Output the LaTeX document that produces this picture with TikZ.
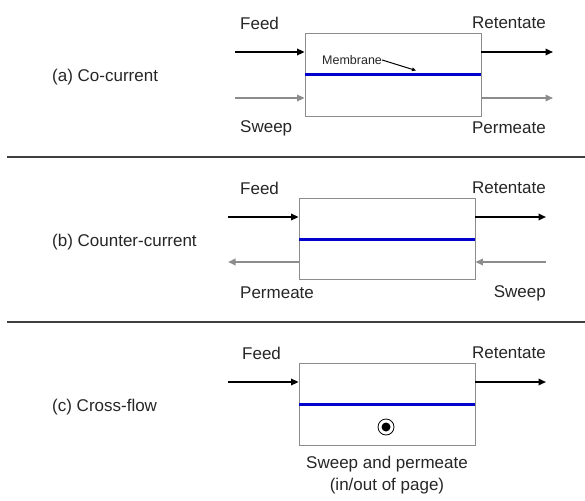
\documentclass[tikz,border=0pt]{standalone}
\usepackage{fontspec}
\setmainfont{Liberation Sans}
\usetikzlibrary{arrows.meta}
\begin{document}
\begin{tikzpicture}[x=1pt,y=-1pt,
  lbl/.style={font=\fontsize{17}{20}\selectfont, inner sep=0pt, text=black!85},
  modbox/.style={draw=black!45, line width=0.9pt, fill=white, inner sep=0pt},
  blk/.style={draw=black, line width=2.2pt, -{Triangle[length=7.5pt,width=6.5pt]}},
  gry/.style={draw=black!45, line width=2.2pt, -{Triangle[length=7.5pt,width=6.5pt]}},
  memb/.style={draw=blue!80!black, line width=3pt},
  sep/.style={draw=black!75, line width=1.5pt}]
\useasboundingbox (0,0) rectangle (585,500);
% separators
\coordinate (s1l) at (7,157); \coordinate (s1r) at (585,157);
\coordinate (s2l) at (7,322); \coordinate (s2r) at (585,322);
\draw[sep] (s1l) -- (s1r);
\draw[sep] (s2l) -- (s2r);
% ---------- (a)
\node[lbl, anchor=west] (atitle) at (52,77) {(a) Co-current};
\node[modbox, minimum width=176pt, minimum height=83pt] (abox) at (393,74.5) {};
\coordinate (amL) at (305,75); \coordinate (amR) at (481,75);
\draw[memb] (amL) -- (amR);
\coordinate (afin) at (235,52); \coordinate (aret) at (553,52);
\draw[blk] (afin) -- (afin -| abox.west);
\draw[blk] (aret -| abox.east) -- (aret);
\coordinate (asw) at (235,98); \coordinate (aper) at (553,98);
\draw[gry] (asw) -- (asw -| abox.west);
\draw[gry] (aper -| abox.east) -- (aper);
\node[lbl, anchor=west] (afeed) at (240,23) {Feed};
\node[lbl, anchor=east] (aretl) at (546,23) {Retentate};
\node[lbl, anchor=west] (asweepl) at (240,128) {Sweep};
\node[lbl, anchor=east] (aperml) at (546,128) {Permeate};
\node[font=\fontsize{12.5}{14}\selectfont, inner sep=0pt, anchor=west, text=black!85] (amemlbl) at (322,60) {Membrane};
\coordinate (amemtip) at (416,70.5);
\draw[black, line width=1pt, -{Triangle[length=4pt,width=3.5pt]}] (amemlbl.east) -- (amemtip);
% ---------- (b)
\node[lbl, anchor=west] (btitle) at (52,242) {(b) Counter-current};
\node[modbox, minimum width=176pt, minimum height=81pt] (bbox) at (387,238.5) {};
\coordinate (bmL) at (299,239); \coordinate (bmR) at (475,239);
\draw[memb] (bmL) -- (bmR);
\coordinate (bfin) at (228,217); \coordinate (bret) at (546,217);
\draw[blk] (bfin) -- (bfin -| bbox.west);
\draw[blk] (bret -| bbox.east) -- (bret);
\coordinate (bper) at (228,262); \coordinate (bsw) at (546,262);
\draw[gry] (bper -| bbox.west) -- (bper);
\draw[gry] (bsw) -- (bsw -| bbox.east);
\node[lbl, anchor=west] (bfeed) at (240,188) {Feed};
\node[lbl, anchor=east] (bretl) at (546,188) {Retentate};
\node[lbl, anchor=west] (bperml) at (240,293) {Permeate};
\node[lbl, anchor=east] (bsweepl) at (546,293) {Sweep};
% ---------- (c)
\node[lbl, anchor=west] (ctitle) at (52,407) {(c) Cross-flow};
\node[modbox, minimum width=176pt, minimum height=82pt] (cbox) at (387,404) {};
\coordinate (cmL) at (299,404); \coordinate (cmR) at (475,404);
\draw[memb] (cmL) -- (cmR);
\coordinate (cfin) at (228,382); \coordinate (cret) at (546,382);
\draw[blk] (cfin) -- (cfin -| cbox.west);
\draw[blk] (cret -| cbox.east) -- (cret);
\node[circle, draw=black, line width=0.8pt, minimum size=16pt, inner sep=0pt] (cdot) at (386,427) {};
\fill[black] (cdot.center) circle (4.5pt);
\node[lbl, anchor=west] (cfeed) at (242,353) {Feed};
\node[lbl, anchor=east] (cretl) at (546,353) {Retentate};
\node[lbl, align=center, font=\fontsize{17}{22}\selectfont] (csw) at (387,475) {Sweep and permeate\\(in/out of page)};
\end{tikzpicture}
\end{document}
